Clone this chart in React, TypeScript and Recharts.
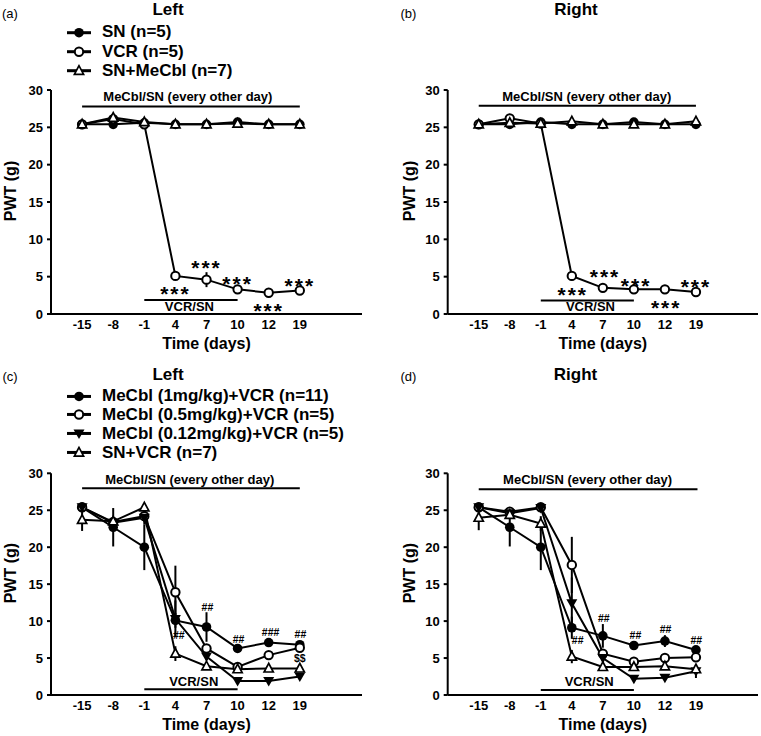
import React from "react";
import {
  LineChart,
  Line,
  XAxis,
  YAxis,
  ErrorBar,
  ReferenceLine,
  ReferenceDot,
  Legend,
} from "recharts";

const FONT = '"Liberation Sans", Arial, Helvetica, sans-serif';

// shared axes
const DAYS = ["-15", "-8", "-1", "4", "7", "10", "12", "19"];
const X_TICKS = [1, 2, 3, 4, 5, 6, 7, 8];
const Y_TICKS = [0, 5, 10, 15, 20, 25, 30];

// (a) Left paw: SN / VCR / SN+MeCbl
const A_SN = [25.4, 25.4, 25.6, 25.4, 25.4, 25.7, 25.4, 25.4];
const A_VCR = [25.4, 26.1, 25.4, 5.1, 4.6, 3.3, 2.85, 3.15];
const A_VCR_ERR = [0, 0.3, 0, 0.5, 1.0, 0.3, 0.6, 0.3];
const A_MECBL = [25.4, 26.3, 25.7, 25.4, 25.4, 25.5, 25.4, 25.4];

// (b) Right paw
const B_SN = [25.4, 25.4, 25.7, 25.4, 25.4, 25.7, 25.4, 25.4];
const B_VCR = [25.4, 26.2, 25.5, 5.1, 3.5, 3.3, 3.3, 2.95];
const B_VCR_ERR = [0, 0.3, 0, 0.6, 0.2, 0.3, 0.5, 0.2];
const B_MECBL = [25.4, 25.6, 25.5, 25.8, 25.4, 25.4, 25.4, 25.8];

// (c) Left paw, dose groups
const C_1MG = [25.4, 22.7, 20.0, 10.1, 9.2, 6.3, 7.1, 6.8];
const C_1MG_ERR = [0.3, 2.6, 3.1, 1.0, 2.0, 0.4, 0.4, 0.4];
const C_05MG = [25.4, 23.4, 24.2, 13.9, 6.3, 3.8, 5.4, 6.4];
const C_05MG_ERR = [0, 0.5, 1.1, 3.6, 0.5, 0.3, 0.4, 0.4];
const C_012MG = [25.4, 23.3, 24.0, 10.3, 5.2, 1.9, 1.9, 2.5];
const C_012MG_ERR = [0, 0.4, 0.4, 2.5, 0.5, 0.2, 0.2, 0.2];
const C_SNVCR = [23.7, 23.5, 25.4, 5.6, 3.9, 3.5, 3.6, 3.6];
const C_SNVCR_ERR = [1.5, 0.4, 0.3, 1.0, 0.3, 0.3, 0.2, 0.2];

// (d) Right paw, dose groups
const D_1MG = [25.4, 22.7, 20.0, 9.1, 8.0, 6.7, 7.3, 6.1];
const D_1MG_ERR = [0.2, 2.6, 3.1, 1.5, 1.6, 0.4, 0.8, 0.4];
const D_05MG = [25.4, 24.8, 25.4, 17.6, 5.6, 4.5, 5.0, 5.1];
const D_05MG_ERR = [0, 0.5, 0.3, 3.8, 0.5, 0.6, 0.6, 0.4];
const D_012MG = [25.4, 24.6, 25.3, 12.4, 5.0, 2.2, 2.35, 3.2];
const D_012MG_ERR = [0, 0.4, 0.3, 3.5, 0.5, 0.3, 0.2, 0.9];
const D_SNVCR = [24.0, 24.4, 23.2, 5.2, 3.8, 3.8, 3.9, 3.5];
const D_SNVCR_ERR = [1.7, 0.5, 1.0, 0.9, 0.3, 0.3, 0.3, 0.5];

// treatment bars (x in day slots, y in g)
const A_BARS = [{ x1: 1, x2: 8, y: 27.8 }, { x1: 3, x2: 6, y: 1.87 }];
const B_BARS = [{ x1: 1, x2: 8, y: 27.9 }, { x1: 3, x2: 6, y: 1.82 }];
const C_BARS = [{ x1: 1, x2: 8, y: 27.97 }, { x1: 3, x2: 6, y: 0.77 }];
const D_BARS = [{ x1: 1, x2: 8.05, y: 27.83 }, { x1: 3, x2: 6, y: 0.68 }];

// text annotations
const A_MARKS = [
  { x: 4.4, y: 29.2, text: "MeCbl/SN (every other day)", kind: "label" },
  { x: 4.45, y: 0.98, text: "VCR/SN", kind: "label" },
  { x: 4, y: 3.35, text: "***", kind: "star" },
  { x: 5, y: 6.87, text: "***", kind: "star" },
  { x: 6, y: 4.68, text: "***", kind: "star" },
  { x: 7, y: 1.11, text: "***", kind: "star" },
  { x: 8, y: 4.46, text: "***", kind: "star" },
];
const B_MARKS = [
  { x: 4.48, y: 29.2, text: "MeCbl/SN (every other day)", kind: "label" },
  { x: 4.6, y: 1.02, text: "VCR/SN", kind: "label" },
  { x: 4.03, y: 3.25, text: "***", kind: "star" },
  { x: 5.07, y: 5.7, text: "***", kind: "star" },
  { x: 6.07, y: 4.46, text: "***", kind: "star" },
  { x: 7.04, y: 1.55, text: "***", kind: "star" },
  { x: 8, y: 4.28, text: "***", kind: "star" },
];
const C_MARKS = [
  { x: 4.46, y: 29.2, text: "MeCbl/SN (every other day)", kind: "label" },
  { x: 4.59, y: 1.8, text: "VCR/SN", kind: "label" },
  { x: 4.11, y: 8.08, text: "##", kind: "hash" },
  { x: 5.03, y: 11.9, text: "##", kind: "hash" },
  { x: 6.03, y: 7.55, text: "##", kind: "hash" },
  { x: 7.06, y: 8.5, text: "###", kind: "hash" },
  { x: 8.02, y: 8.16, text: "##", kind: "hash" },
  { x: 8, y: 4.94, text: "$$", kind: "hash" },
];
const D_MARKS = [
  { x: 4.51, y: 29.2, text: "MeCbl/SN (every other day)", kind: "label" },
  { x: 4.56, y: 1.8, text: "VCR/SN", kind: "label" },
  { x: 4.19, y: 7.4, text: "##", kind: "hash" },
  { x: 5.03, y: 10.44, text: "##", kind: "hash" },
  { x: 6.05, y: 8.07, text: "##", kind: "hash" },
  { x: 7.02, y: 8.84, text: "##", kind: "hash" },
  { x: 8.01, y: 7.4, text: "##", kind: "hash" },
];

type Shape = "dot" | "ring" | "down" | "up";
type Series = { key: string; name: string; shape: Shape; values: number[]; errors?: number[] };
type Mark = { x: number; y: number; text: string; kind: string };
type Bar = { x1: number; x2: number; y: number };

const MARK_STYLE: Record<string, { size: number; weight: number; lift: string; spacing?: number }> = {
  label: { size: 13, weight: 700, lift: "0.36em" },
  star: { size: 21, weight: 700, lift: "0.58em", spacing: 2 },
  hash: { size: 10.5, weight: 700, lift: "0.36em" },
};

function Marker({ shape, cx, cy }: { shape: Shape; cx: number; cy: number }) {
  if (shape === "dot") return <circle cx={cx} cy={cy} r={4.8} fill="#000" />;
  if (shape === "ring")
    return <circle cx={cx} cy={cy} r={4.2} fill="#fff" stroke="#000" strokeWidth={2} />;
  if (shape === "down")
    return (
      <polygon
        points={`${cx - 5.5},${cy - 4} ${cx + 5.5},${cy - 4} ${cx},${cy + 5.5}`}
        fill="#000"
      />
    );
  return (
    <polygon
      points={`${cx},${cy - 5} ${cx - 4.6},${cy + 3.6} ${cx + 4.6},${cy + 3.6}`}
      fill="#fff"
      stroke="#000"
      strokeWidth={1.7}
    />
  );
}

function makeRows(series: Series[]) {
  return DAYS.map((day, i) => {
    const row: Record<string, number | string> = { idx: i + 1, day };
    series.forEach((s) => {
      row[s.key] = s.values[i];
      if (s.errors) row[s.key + "_err"] = s.errors[i];
    });
    return row;
  });
}

function legendContent(series: Series[], rowH: number) {
  return (props: any) => {
    const payload = props.payload || [];
    return (
      <div style={{ fontFamily: FONT, fontWeight: 700, fontSize: 17, color: "#000" }}>
        {series.map((s) => {
          const entry = payload.find((p: any) => p.dataKey === s.key);
          return (
            <div
              key={s.key}
              style={{ display: "flex", alignItems: "center", height: rowH, whiteSpace: "nowrap" }}
            >
              <svg width={26} height={rowH} style={{ marginRight: 10, flex: "none" }}>
                <line x1={1} x2={25} y1={rowH / 2} y2={rowH / 2} stroke="#000" strokeWidth={3} />
                <Marker shape={s.shape} cx={13} cy={rowH / 2} />
              </svg>
              <span>{entry ? entry.value : s.name}</span>
            </div>
          );
        })}
      </div>
    );
  };
}

type PanelProps = {
  left: number;
  top: number;
  width: number;
  height: number;
  margin: { top: number; right: number; bottom: number; left: number };
  xAxisHeight: number;
  yLabelShift: number;
  series: Series[];
  bars: Bar[];
  marks: Mark[];
  legendTop?: number;
  legendRow?: number;
};

function Panel(p: PanelProps) {
  const data = makeRows(p.series);
  return (
    <div style={{ position: "absolute", left: p.left, top: p.top }}>
      <LineChart width={p.width} height={p.height} data={data} margin={p.margin}>
        <XAxis
          type="number"
          dataKey="idx"
          domain={[0, 10]}
          ticks={X_TICKS}
          interval={0}
          tickFormatter={(v: number) => DAYS[v - 1] ?? ""}
          height={p.xAxisHeight}
          tickLine={false}
          tickSize={0}
          tickMargin={6}
          axisLine={{ stroke: "#000", strokeWidth: 2 }}
          tick={{ fill: "#000", fontSize: 13, fontWeight: 700, fontFamily: FONT }}
          label={(lp: any) => {
            const vb = lp.viewBox || { x: 0, y: 0, width: 0 };
            return (
              <text
                x={vb.x + vb.width / 2}
                y={vb.y + 35}
                textAnchor="middle"
                fill="#000"
                fontSize={16}
                fontWeight={700}
                fontFamily={FONT}
              >
                Time (days)
              </text>
            );
          }}
        />
        <YAxis
          type="number"
          domain={[0, 30]}
          ticks={Y_TICKS}
          interval={0}
          width={45}
          tickSize={4}
          tickMargin={4}
          tickLine={{ stroke: "#000", strokeWidth: 2 }}
          axisLine={{ stroke: "#000", strokeWidth: 2 }}
          tick={{ fill: "#000", fontSize: 13, fontWeight: 700, fontFamily: FONT }}
          label={(lp: any) => {
            const vb = lp.viewBox || { x: 0, y: 0, height: 0 };
            const cx = vb.x + p.yLabelShift;
            const cy = vb.y + vb.height / 2 - 11;
            return (
              <text
                x={cx}
                y={cy}
                dy="0.36em"
                textAnchor="middle"
                transform={`rotate(-90, ${cx}, ${cy})`}
                fill="#000"
                fontSize={16}
                fontWeight={700}
                fontFamily={FONT}
              >
                PWT (g)
              </text>
            );
          }}
        />
        {p.bars.map((b, i) => (
          <ReferenceLine
            key={"bar" + i}
            segment={[
              { x: b.x1, y: b.y },
              { x: b.x2, y: b.y },
            ]}
            stroke="#000"
            strokeWidth={2}
            ifOverflow="visible"
          />
        ))}
        {p.series.map((s) => (
          <Line
            key={s.key}
            type="linear"
            dataKey={s.key}
            name={s.name}
            stroke="#000"
            strokeWidth={2}
            isAnimationActive={false}
            activeDot={false}
            dot={(dp: any) => (
              <Marker key={`${s.key}-${dp.index}`} shape={s.shape} cx={dp.cx} cy={dp.cy} />
            )}
          >
            {s.errors && (
              <ErrorBar
                dataKey={s.key + "_err"}
                direction="y"
                width={0}
                stroke="#000"
                strokeWidth={2}
                isAnimationActive={false}
              />
            )}
          </Line>
        ))}
        {p.marks.map((m, i) => {
          const st = MARK_STYLE[m.kind];
          return (
            <ReferenceDot
              key={"mark" + i}
              x={m.x}
              y={m.y}
              r={0}
              fill="none"
              stroke="none"
              ifOverflow="visible"
              label={(lp: any) => {
                const vb = lp.viewBox || { x: 0, y: 0, width: 0, height: 0 };
                return (
                  <text
                    x={vb.x + (vb.width || 0) / 2}
                    y={vb.y + (vb.height || 0) / 2}
                    dy={st.lift}
                    textAnchor="middle"
                    fill="#000"
                    fontSize={st.size}
                    fontWeight={st.weight}
                    fontFamily={FONT}
                    letterSpacing={st.spacing ?? 0}
                  >
                    {m.text}
                  </text>
                );
              }}
            />
          );
        })}
        {p.legendTop !== undefined && (
          <Legend
            layout="vertical"
            align="center"
            verticalAlign="middle"
            wrapperStyle={{ left: 66, top: p.legendTop, width: 300 }}
            content={legendContent(p.series, p.legendRow ?? 19)}
          />
        )}
      </LineChart>
    </div>
  );
}

const TOP_SERIES_A: Series[] = [
  { key: "sn", name: "SN (n=5)", shape: "dot", values: A_SN },
  { key: "vcr", name: "VCR (n=5)", shape: "ring", values: A_VCR, errors: A_VCR_ERR },
  { key: "mecbl", name: "SN+MeCbl (n=7)", shape: "up", values: A_MECBL },
];
const TOP_SERIES_B: Series[] = [
  { key: "sn", name: "SN (n=5)", shape: "dot", values: B_SN },
  { key: "vcr", name: "VCR (n=5)", shape: "ring", values: B_VCR, errors: B_VCR_ERR },
  { key: "mecbl", name: "SN+MeCbl (n=7)", shape: "up", values: B_MECBL },
];
const BOTTOM_SERIES_C: Series[] = [
  { key: "m1", name: "MeCbl (1mg/kg)+VCR (n=11)", shape: "dot", values: C_1MG, errors: C_1MG_ERR },
  { key: "m05", name: "MeCbl (0.5mg/kg)+VCR (n=5)", shape: "ring", values: C_05MG, errors: C_05MG_ERR },
  { key: "m012", name: "MeCbl (0.12mg/kg)+VCR (n=5)", shape: "down", values: C_012MG, errors: C_012MG_ERR },
  { key: "snvcr", name: "SN+VCR (n=7)", shape: "up", values: C_SNVCR, errors: C_SNVCR_ERR },
];
const BOTTOM_SERIES_D: Series[] = [
  { key: "m1", name: "MeCbl (1mg/kg)+VCR (n=11)", shape: "dot", values: D_1MG, errors: D_1MG_ERR },
  { key: "m05", name: "MeCbl (0.5mg/kg)+VCR (n=5)", shape: "ring", values: D_05MG, errors: D_05MG_ERR },
  { key: "m012", name: "MeCbl (0.12mg/kg)+VCR (n=5)", shape: "down", values: D_012MG, errors: D_012MG_ERR },
  { key: "snvcr", name: "SN+VCR (n=7)", shape: "up", values: D_SNVCR, errors: D_SNVCR_ERR },
];

export default function App() {
  const titleStyle = { fontFamily: FONT, fontWeight: 700, fontSize: 17, fill: "#000" };
  const tagStyle = { fontFamily: FONT, fontSize: 13, fill: "#000" };
  return (
    <div
      style={{
        position: "absolute",
        left: 0,
        top: 0,
        width: 761,
        height: 736,
        background: "#fff",
        overflow: "hidden",
      }}
    >
      <svg width={761} height={736} style={{ position: "absolute", left: 0, top: 0 }}>
        <text x={2} y={17.5} {...tagStyle}>(a)</text>
        <text x={168} y={15} textAnchor="middle" {...titleStyle}>Left</text>
        <text x={400.5} y={17.5} {...tagStyle}>(b)</text>
        <text x={576} y={15} textAnchor="middle" {...titleStyle}>Right</text>
        <text x={2.5} y={381} {...tagStyle}>(c)</text>
        <text x={168} y={380} textAnchor="middle" {...titleStyle}>Left</text>
        <text x={400.5} y={381} {...tagStyle}>(d)</text>
        <text x={575.5} y={380} textAnchor="middle" {...titleStyle}>Right</text>
      </svg>
      <Panel
        left={0}
        top={0}
        width={380}
        height={352}
        margin={{ top: 90, right: 18, bottom: 0, left: 6 }}
        xAxisHeight={38}
        yLabelShift={4.5}
        series={TOP_SERIES_A}
        bars={A_BARS}
        marks={A_MARKS}
        legendTop={22.6}
        legendRow={19.4}
      />
      <Panel
        left={380}
        top={0}
        width={381}
        height={352}
        margin={{ top: 90, right: 3, bottom: 0, left: 22.7 }}
        xAxisHeight={38}
        yLabelShift={6.8}
        series={TOP_SERIES_B}
        bars={B_BARS}
        marks={B_MARKS}
      />
      <Panel
        left={0}
        top={360}
        width={380}
        height={376}
        margin={{ top: 113.3, right: 18, bottom: 0, left: 6 }}
        xAxisHeight={41}
        yLabelShift={4.5}
        series={BOTTOM_SERIES_C}
        bars={C_BARS}
        marks={C_MARKS}
        legendTop={26.5}
        legendRow={18.9}
      />
      <Panel
        left={380}
        top={360}
        width={381}
        height={376}
        margin={{ top: 113.3, right: 3, bottom: 0, left: 22.7 }}
        xAxisHeight={41}
        yLabelShift={6.8}
        series={BOTTOM_SERIES_D}
        bars={D_BARS}
        marks={D_MARKS}
      />
    </div>
  );
}
